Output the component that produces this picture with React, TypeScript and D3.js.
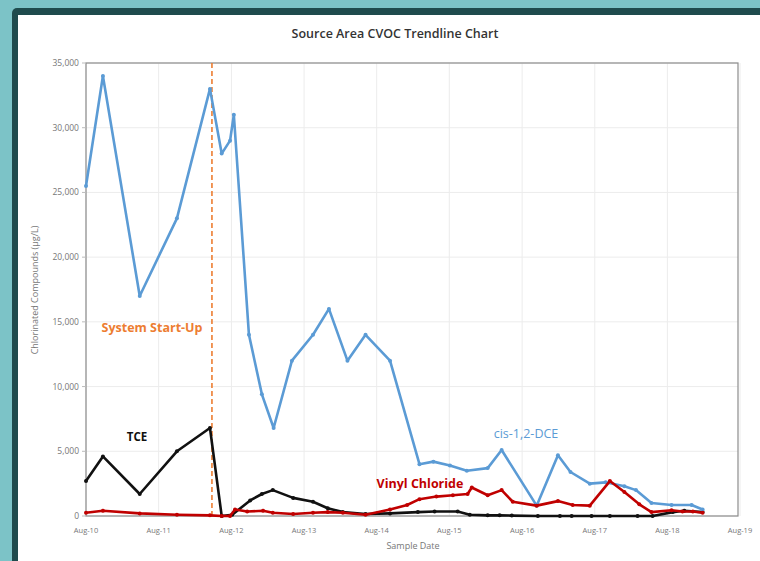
import React from "react";
import * as d3 from "d3";

const yTicks = [0, 5000, 10000, 15000, 20000, 25000, 30000, 35000];
const xTickLabels = ["Aug-10", "Aug-11", "Aug-12", "Aug-13", "Aug-14", "Aug-15", "Aug-16", "Aug-17", "Aug-18", "Aug-19"];
const xTickDates = ["2010-08-01", "2011-08-01", "2012-08-01", "2013-08-01", "2014-08-01", "2015-08-01", "2016-08-01", "2017-08-01", "2018-08-01", "2019-08-01"];

const dceDates = [
  "2010-08-01", "2010-10-25", "2011-04-28", "2011-11-01", "2012-04-15", "2012-06-13", "2012-07-25", "2012-08-13",
  "2012-10-28", "2013-01-01", "2013-03-01", "2013-06-01", "2013-09-15", "2013-12-04", "2014-03-07", "2014-06-06",
  "2014-10-07", "2015-03-04", "2015-05-13", "2015-08-04", "2015-10-28", "2016-02-10", "2016-04-20", "2016-10-13",
  "2017-01-28", "2017-04-01", "2017-07-07", "2017-09-25", "2017-12-28", "2018-02-24", "2018-05-13", "2018-08-22",
  "2018-12-01", "2019-01-25",
];
const dceValues = [
  25500, 34000, 17000, 23000, 33000, 28000, 29000, 31000,
  14000, 9400, 6800, 12000, 14000, 16000, 12000, 14000,
  12000, 4000, 4200, 3900, 3500, 3700, 5100, 800,
  4700, 3400, 2500, 2600, 2300, 2000, 1000, 850,
  850, 500,
];

const tceDates = [
  "2010-08-01", "2010-10-25", "2011-04-28", "2011-11-01", "2012-04-15", "2012-06-13", "2012-08-05", "2012-11-03",
  "2013-01-01", "2013-02-25", "2013-06-07", "2013-09-15", "2013-11-28", "2014-02-12", "2014-06-06", "2014-10-07",
  "2015-02-24", "2015-05-19", "2015-09-12", "2015-11-12", "2016-02-10", "2016-04-10", "2016-06-10", "2016-10-19",
  "2017-02-07", "2017-04-07", "2017-07-16", "2017-10-16", "2018-03-04", "2018-05-19", "2018-08-28", "2018-10-25",
  "2019-01-25",
];
const tceValues = [
  2700, 4600, 1700, 5000, 6800, 0, 100, 1200,
  1700, 2000, 1400, 1100, 600, 300, 150, 200,
  300, 350, 350, 100, 50, 50, 30, 0,
  0, 0, 0, 0, 0, 0, 300, 400,
  300,
];

const vcDates = [
  "2010-08-01", "2010-10-25", "2011-04-28", "2011-11-01", "2012-04-15", "2012-06-13", "2012-07-25", "2012-08-19",
  "2012-10-19", "2013-01-07", "2013-02-25", "2013-06-07", "2013-09-15", "2013-11-28", "2014-02-12", "2014-06-06",
  "2014-10-07", "2015-01-01", "2015-03-04", "2015-05-28", "2015-08-19", "2015-11-01", "2015-11-22", "2016-02-10",
  "2016-04-20", "2016-06-15", "2016-10-13", "2017-01-28", "2017-04-12", "2017-07-07", "2017-10-16", "2017-12-28",
  "2018-03-13", "2018-05-13", "2018-08-22", "2018-10-16", "2018-12-07", "2019-01-25",
];
const vcValues = [
  250, 400, 200, 100, 50, 0, 0, 500,
  350, 400, 250, 150, 250, 300, 250, 100,
  500, 850, 1300, 1500, 1600, 1700, 2200, 1600,
  2000, 1100, 800, 1150, 850, 800, 2700, 1850,
  900, 300, 450, 350, 350, 250,
];

const startUpDate = "2012-04-25";

const W = 760;
const H = 561;
const M = { left: 86, right: 738, top: 63, bottom: 516 };

const parse = d3.timeParse("%Y-%m-%d");

export default function App() {
  const x = d3
    .scaleTime()
    .domain([parse("2010-08-01") as Date, parse("2019-08-01") as Date])
    .range([M.left, M.right + 2]);
  const y = d3.scaleLinear().domain([0, 35000]).range([M.bottom, M.top]);

  const mk = (dates: string[], vals: number[]) =>
    dates.map((d, i) => ({ x: x(parse(d) as Date), y: y(vals[i]) }));

  const series = [
    { pts: mk(tceDates, tceValues), color: "#111111", w: 2.6 },
    { pts: mk(dceDates, dceValues), color: "#5b9bd5", w: 2.6 },
    { pts: mk(vcDates, vcValues), color: "#c00000", w: 2.6 },
  ];
  const line = d3
    .line<{ x: number; y: number }>()
    .x((d) => d.x)
    .y((d) => d.y);

  const fmt = d3.format(",");
  const sx = x(parse(startUpDate) as Date);
  const font = "'Open Sans', 'Liberation Sans', sans-serif";

  return (
    <svg
      width={W}
      height={H}
      style={{ position: "absolute", left: 0, top: 0, display: "block" }}
      fontFamily={font}
    >
      <rect x={0} y={0} width={W} height={H} fill="#7cc3c7" />
      <rect x={12} y={8} width={W} height={H} rx={5} fill="#1f4b4d" />
      <rect x={18} y={15} width={W} height={H} fill="#ffffff" />

      {/* gridlines */}
      {yTicks.map((t) => (
        <line key={"gy" + t} x1={M.left} x2={M.right} y1={y(t)} y2={y(t)} stroke="#ececec" strokeWidth={1} />
      ))}
      {xTickDates.map((d) => (
        <line
          key={"gx" + d}
          x1={x(parse(d) as Date)}
          x2={x(parse(d) as Date)}
          y1={M.top}
          y2={M.bottom}
          stroke="#ececec"
          strokeWidth={1}
        />
      ))}

      {/* plot border */}
      <rect
        x={M.left}
        y={M.top}
        width={M.right - M.left}
        height={M.bottom - M.top}
        fill="none"
        stroke="#8c8c8c"
        strokeWidth={1.2}
      />

      {/* y tick labels */}
      {yTicks.map((t) => (
        <g key={"yt" + t}>
          <line x1={M.left - 4} x2={M.left} y1={y(t)} y2={y(t)} stroke="#bbbbbb" />
          <text x={M.left - 7} y={y(t) + 3} fontSize={8.5} fill="#777" textAnchor="end">
            {fmt(t)}
          </text>
        </g>
      ))}

      {/* x tick labels */}
      {xTickDates.map((d, i) => (
        <text
          key={"xt" + d}
          x={x(parse(d) as Date)}
          y={M.bottom + 17}
          fontSize={7.5}
          fill="#777"
          textAnchor="middle"
        >
          {xTickLabels[i]}
        </text>
      ))}

      {/* start-up line */}
      <line x1={sx} x2={sx} y1={M.top} y2={M.bottom} stroke="#ed7d31" strokeWidth={1.6} strokeDasharray="5,3" />

      {/* series */}
      {series.map((s, i) => (
        <g key={"s" + i}>
          <path d={line(s.pts) || ""} fill="none" stroke={s.color} strokeWidth={s.w} strokeLinejoin="round" />
          {s.pts.map((p, j) => (
            <circle key={j} cx={p.x} cy={p.y} r={2} fill={s.color} />
          ))}
        </g>
      ))}

      {/* titles */}
      <text x={395} y={38} fontSize={12.5} fontWeight={600} fill="#333" textAnchor="middle">
        Source Area CVOC Trendline Chart
      </text>
      <text x={413} y={549} fontSize={9} fill="#777" textAnchor="middle">
        Sample Date
      </text>
      <text
        transform={`translate(38,290) rotate(-90)`}
        fontSize={9}
        fill="#777"
        textAnchor="middle"
      >
        Chlorinated Compounds (µg/L)
      </text>

      {/* annotations */}
      <text x={152} y={332} fontSize={12.5} fontWeight={700} fill="#ed7d31" textAnchor="middle">
        System Start-Up
      </text>
      <text x={137} y={441} fontSize={11.5} fontWeight={700} fill="#111" textAnchor="middle">
        TCE
      </text>
      <text x={526} y={438} fontSize={12.5} fill="#5b9bd5" textAnchor="middle">
        cis-1,2-DCE
      </text>
      <text x={420} y={488} fontSize={12.5} fontWeight={700} fill="#c00000" textAnchor="middle">
        Vinyl Chloride
      </text>
    </svg>
  );
}
